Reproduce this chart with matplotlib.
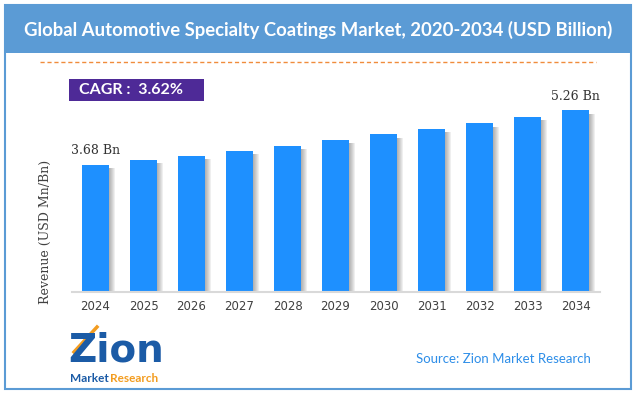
import matplotlib.pyplot as plt
from matplotlib.patches import Rectangle

# data
years = ['2024', '2025', '2026', '2027', '2028', '2029', '2030', '2031', '2032', '2033', '2034']
revenue = [3.68, 3.82, 3.95, 4.09, 4.24, 4.40, 4.56, 4.73, 4.89, 5.07, 5.26]
labelled = {0: '3.68 Bn', 10: '5.26 Bn'}
cagr_text = 'CAGR :  3.62%'
title = 'Global Automotive Specialty Coatings Market, 2020-2034 (USD Billion)'

W, H = 636, 396
fig = plt.figure(figsize=(W / 100, H / 100), dpi=100)
fig.patch.set_facecolor('white')

def fx(px):
    return px / W

def fy(py):
    return 1 - py / H

# frame + title band
fig.patches.append(Rectangle((fx(5), fy(389)), fx(626), (389 - 5) / H, transform=fig.transFigure,
                             facecolor='none', edgecolor='#5B9BD5', linewidth=1.5, zorder=-1))
fig.patches.append(Rectangle((fx(5), fy(53)), fx(626), 48 / H, transform=fig.transFigure,
                             facecolor='#5B9BD5', edgecolor='none', zorder=1))
fig.text(fx(318), fy(30), title, color='white', fontsize=13.3, fontweight='bold',
         family='Lato', ha='center', va='center')

# orange dashed rule
fig.add_artist(plt.Line2D([fx(40), fx(596)], [fy(62), fy(62)], transform=fig.transFigure,
                          color='#F08C3C', linestyle=(0, (3, 2)), linewidth=1))

# CAGR box
fig.patches.append(Rectangle((fx(69), fy(101)), fx(135), 22 / H, transform=fig.transFigure,
                             facecolor='#4E2A97', edgecolor='none', zorder=2))
fig.text(fx(131), fy(90), cagr_text, color='white', fontsize=11.5, fontweight='bold',
         family='Lato', ha='center', va='center', zorder=3)

# bar chart
ax = fig.add_axes([71.5 / W, (H - 292) / H, 528 / W, (292 - 84.7) / H])
ax.set_facecolor('none')
x = list(range(len(years)))
px = 1 / 48.0
# soft shadow on the right of each bar
for k in range(1, 7):
    ax.bar([i + k * px for i in x], [v - 0.1 for v in revenue], width=0.56,
           color='#555555', alpha=0.09, zorder=1, linewidth=0)
ax.bar(x, revenue, width=0.56, color='#1E90FF', zorder=2, linewidth=0)

for i, txt in labelled.items():
    ax.annotate(txt, (i, revenue[i]), xytext=(0, 10), textcoords='offset points',
                ha='center', va='center', fontsize=9, family='DejaVu Serif', color='#333333')

ax.set_xlim(-0.5, 10.5)
ax.set_ylim(0, 6)
ax.set_xticks(x)
ax.set_xticklabels(years, fontsize=8.5, color='#404040')
ax.set_yticks([])
for s in ['top', 'right', 'left']:
    ax.spines[s].set_visible(False)
ax.spines['bottom'].set_color('#D9D9D9')
ax.spines['bottom'].set_linewidth(1.5)
ax.tick_params(axis='x', length=0, pad=6)

fig.text(fx(45), fy(232), 'Revenue (USD Mn/Bn)', rotation=90, fontsize=9, family='DejaVu Serif',
         color='#404040', ha='center', va='center')

# logo
fig.text(fx(68), fy(361), 'Zion', fontsize=28, fontweight='heavy', family='DejaVu Sans',
         color='#1B5BA6', ha='left', va='baseline')
fig.add_artist(plt.Line2D([fx(74), fx(97)], [fy(352), fy(327)], transform=fig.transFigure,
                          color='#F39C1F', linewidth=2.5))
fig.text(fx(70), fy(382), 'Market', fontsize=8.5, fontweight='bold', family='Lato',
         color='#1B5BA6', ha='left', va='baseline')
fig.text(fx(110), fy(382), 'Research', fontsize=8.5, fontweight='bold', family='Lato',
         color='#F39C1F', ha='left', va='baseline')

fig.text(fx(591), fy(359), 'Source: Zion Market Research', fontsize=9.5, family='Lato',
         color='#2E8EE8', ha='right', va='center')

fig.savefig('out.png', dpi=100)
